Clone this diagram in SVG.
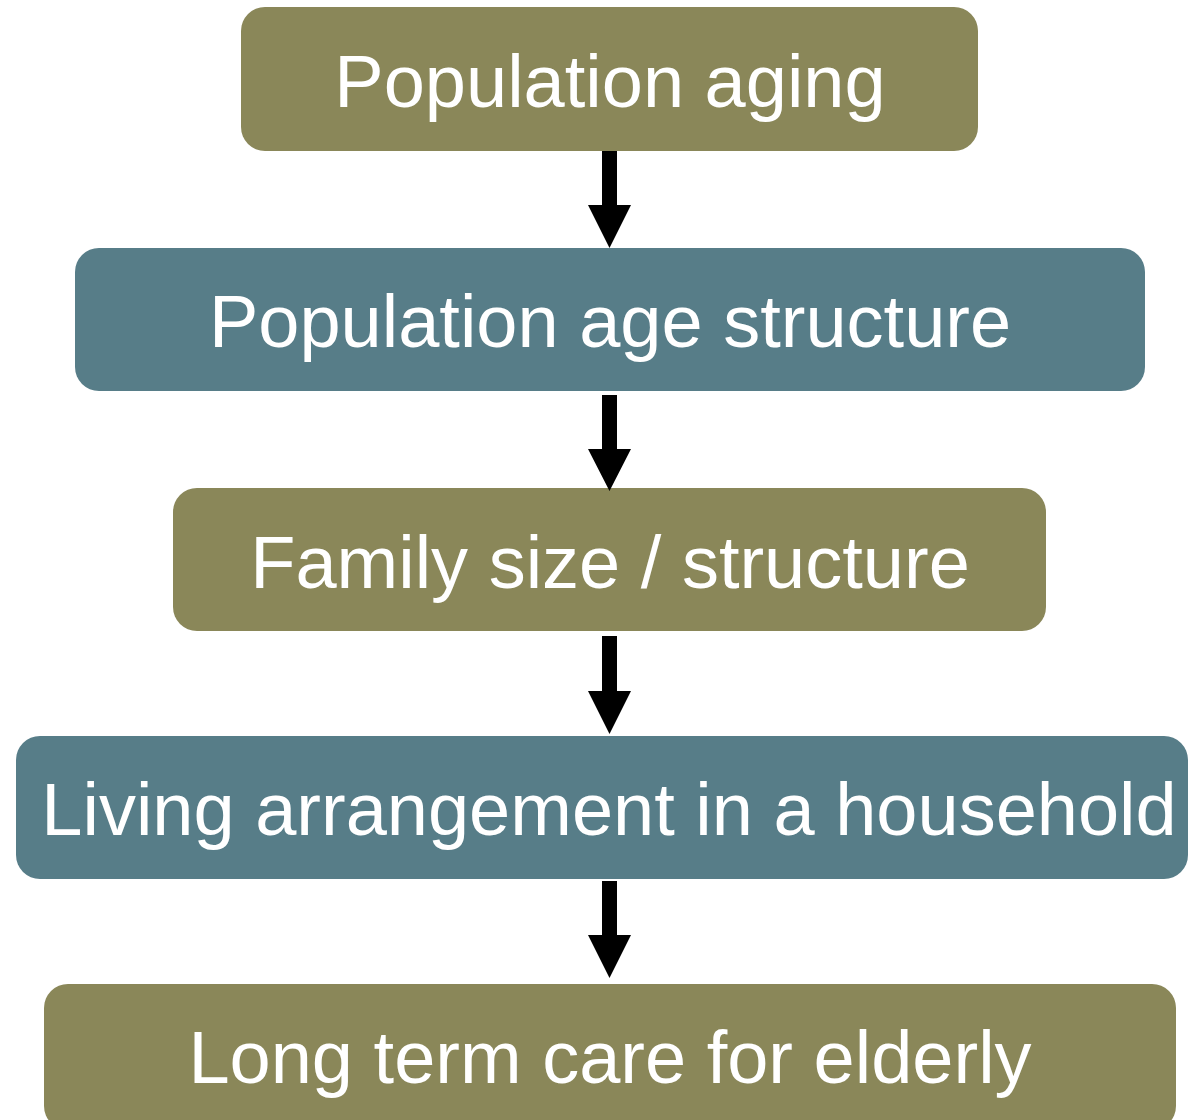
<svg xmlns="http://www.w3.org/2000/svg" width="1192" height="1120" viewBox="0 0 1192 1120">
<style>
.olive{fill:#8A8759}
.teal{fill:#577D88}
text{font-family:"Liberation Sans",Arial,sans-serif;font-size:74px;fill:#FFFFFF;text-anchor:middle}
.arrow{fill:#000000}
</style>
<rect width="1192" height="1120" fill="#FFFFFF"/>
<g id="node1"><rect class="olive" x="241" y="7" width="737" height="144" rx="24"/><text x="610" y="107">Population aging</text></g>
<g id="node2"><rect class="teal" x="75" y="248" width="1070" height="143" rx="24"/><text x="610" y="347">Population age structure</text></g>
<g id="node3"><rect class="olive" x="173" y="488" width="873" height="143" rx="24"/><text x="610" y="588">Family size / structure</text></g>
<g id="node4"><rect class="teal" x="16" y="736" width="1172" height="143" rx="24"/><text x="609" y="835">Living arrangement in a household</text></g>
<g id="node5"><rect class="olive" x="44" y="984" width="1132" height="146" rx="24"/><text x="610" y="1083">Long term care for elderly</text></g>
<g id="connectors">
<path class="arrow" d="M602 151 H617 V205 H631 L609.5 248 L588 205 H602 Z"/>
<path class="arrow" d="M602 395 H617 V449 H631 L609.5 491 L588 449 H602 Z"/>
<path class="arrow" d="M602 636 H617 V691 H631 L609.5 734 L588 691 H602 Z"/>
<path class="arrow" d="M602 881 H617 V935 H631 L609.5 978 L588 935 H602 Z"/>
</g>
</svg>
